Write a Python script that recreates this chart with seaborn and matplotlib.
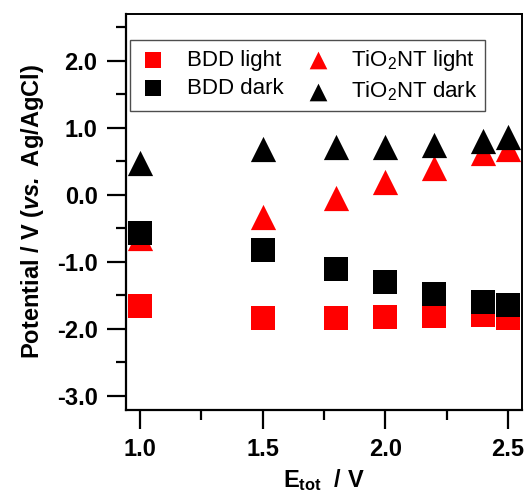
import matplotlib
matplotlib.use("Agg")
import matplotlib.pyplot as plt
import seaborn as sns
import pandas as pd
from matplotlib.ticker import MultipleLocator, FormatStrFormatter

# Total applied voltage (V)
e_tot = [1.0, 1.5, 1.8, 2.0, 2.2, 2.4, 2.5]

# Electrode potentials vs. Ag/AgCl (V)
bdd_light = [-1.66, -1.84, -1.84, -1.82, -1.81, -1.79, -1.84]
bdd_dark = [-0.57, -0.82, -1.11, -1.30, -1.48, -1.60, -1.64]
tio2_light = [-0.65, -0.33, -0.05, 0.19, 0.40, 0.62, 0.68]
tio2_dark = [0.47, 0.69, 0.71, 0.71, 0.74, 0.81, 0.87]

sns.set_theme(style="ticks")
plt.rcParams["font.family"] = ["Liberation Sans", "DejaVu Sans"]
plt.rcParams["mathtext.fontset"] = "custom"
plt.rcParams["mathtext.rm"] = "Liberation Sans"
plt.rcParams["mathtext.it"] = "Liberation Sans:italic"
plt.rcParams["mathtext.bf"] = "Liberation Sans:bold"
plt.rcParams["mathtext.bfit"] = "Liberation Sans:bold:italic"
for key in ["text.color", "axes.labelcolor", "xtick.color", "ytick.color",
            "axes.edgecolor"]:
    plt.rcParams[key] = "black"

fig = plt.figure(figsize=(5.3, 4.95), dpi=100)
ax = fig.add_axes([126 / 530, 1 - 410 / 495, 396 / 530, 396 / 495])

series = [
    ("BDD light", bdd_light, "s", "#ff0000", 275),
    ("TiO$_\\mathregular{2}$NT light", tio2_light, "^", "#ff0000", 330),
    ("BDD dark", bdd_dark, "s", "#000000", 275),
    ("TiO$_\\mathregular{2}$NT dark", tio2_dark, "^", "#000000", 330),
]
for label, values, marker, color, size in series:
    df = pd.DataFrame({"E_tot": e_tot, "potential": values})
    sns.scatterplot(data=df, x="E_tot", y="potential", ax=ax, marker=marker,
                    color=color, s=size, linewidth=0, label=label, zorder=3)

ax.set_xlim(0.943, 2.557)
ax.set_ylim(-3.21, 2.70)
ax.xaxis.set_major_locator(MultipleLocator(0.5))
ax.xaxis.set_minor_locator(MultipleLocator(0.25))
ax.yaxis.set_major_locator(MultipleLocator(1.0))
ax.yaxis.set_minor_locator(MultipleLocator(0.5))
ax.xaxis.set_major_formatter(FormatStrFormatter("%.1f"))
ax.yaxis.set_major_formatter(FormatStrFormatter("%.1f"))

ax.tick_params(which="major", direction="out", length=13.5, width=1.6,
               color="black", labelcolor="black", labelsize=17, pad=7)
ax.tick_params(which="minor", direction="out", length=7, width=1.6, color="black")
for lab in ax.get_xticklabels() + ax.get_yticklabels():
    lab.set_fontweight("bold")

for side in ["left", "bottom"]:
    ax.spines[side].set_linewidth(1.6)
    ax.spines[side].set_color("black")
for side in ["top", "right"]:
    ax.spines[side].set_visible(True)
    ax.spines[side].set_linewidth(1.4)
    ax.spines[side].set_color("black")

ax.set_xlabel(r"$\mathbf{E_{tot}}$  / V", fontsize=17, fontweight="bold",
              labelpad=4, color="black")
ax.set_ylabel(r"Potential / V ($\mathbfit{vs.}$ Ag/AgCl)", fontsize=17,
              fontweight="bold", labelpad=8, color="black")

handles, labels = ax.get_legend_handles_labels()
order = [0, 2, 1, 3]
leg = ax.legend([handles[i] for i in order], [labels[i] for i in order],
                ncol=2, loc="upper left", bbox_to_anchor=(0.01, 0.934),
                fontsize=16, frameon=True, fancybox=False, markerscale=0.7,
                handletextpad=0.8, columnspacing=0.85, borderpad=0.35,
                labelspacing=0.3, handlelength=1.4, borderaxespad=0,
                labelcolor="black")
leg.get_frame().set_edgecolor("#222222")
leg.get_frame().set_linewidth(1.0)

fig.savefig("out.png", dpi=100)
